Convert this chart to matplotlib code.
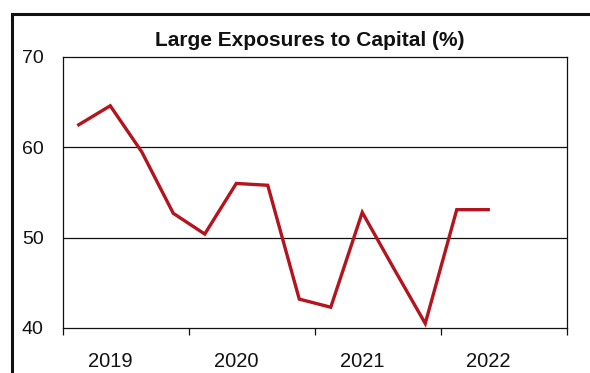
import matplotlib
matplotlib.use("Agg")
import matplotlib.pyplot as plt
from matplotlib.patches import Rectangle

# Quarterly series, 2019 Q1 to 2022 Q2
quarters = ["2019Q1", "2019Q2", "2019Q3", "2019Q4",
            "2020Q1", "2020Q2", "2020Q3", "2020Q4",
            "2021Q1", "2021Q2", "2021Q3", "2021Q4",
            "2022Q1", "2022Q2"]
values = [62.5, 64.6, 59.5, 52.7, 50.4, 56.0, 55.8, 43.2,
          42.3, 52.8, 46.6, 40.5, 53.1, 53.1]
years = ["2019", "2020", "2021", "2022"]
y_ticks = [40, 50, 60, 70]

plt.rcParams["font.family"] = ["Liberation Sans", "DejaVu Sans"]

W, H = 590, 373
fig = plt.figure(figsize=(W / 100, H / 100), dpi=100)

# outer chart border (open at right and bottom)
fig.patches.append(Rectangle((12 / W, -0.1), 1.2, (H - 14) / H + 0.1,
                             transform=fig.transFigure, fill=False,
                             edgecolor="#111111", linewidth=2.2))

left, right, top, bottom = 63, 567, 57, 328
ax = fig.add_axes([left / W, 1 - bottom / H, (right - left) / W, (bottom - top) / H])

x = list(range(len(values)))
ax.plot(x, values, color="#B3141E", linewidth=2.4, solid_joinstyle="miter")

n_cat = 4 * len(years)
ax.set_xlim(-0.5, n_cat - 0.5)
ax.set_ylim(40, 70)

ax.set_yticks(y_ticks)
ax.set_yticklabels([str(v) for v in y_ticks])
ax.tick_params(axis="y", length=0, pad=14, labelsize=14, labelcolor="#111111")
for v in y_ticks[1:-1]:
    ax.axhline(v, color="#111111", linewidth=0.9, zorder=0)

ax.set_xticks([i * 4 - 0.5 for i in range(len(years) + 1)])
ax.set_xticklabels([])
ax.tick_params(axis="x", which="major", length=5, width=0.9, direction="out",
               color="#111111")
ax.set_xticks([i * 4 + 1 for i in range(len(years))], minor=True)
ax.set_xticklabels(years, minor=True)
ax.tick_params(axis="x", which="minor", length=0, pad=17, labelsize=14.5,
               labelcolor="#111111")

for s in ax.spines.values():
    s.set_color("#111111")
    s.set_linewidth(0.9)

fig.text(310 / W, 1 - 40 / H, "Large Exposures to Capital (%)", ha="center",
         va="center", fontsize=15, fontweight="bold", color="#111111")

fig.savefig("out.png", dpi=100)
